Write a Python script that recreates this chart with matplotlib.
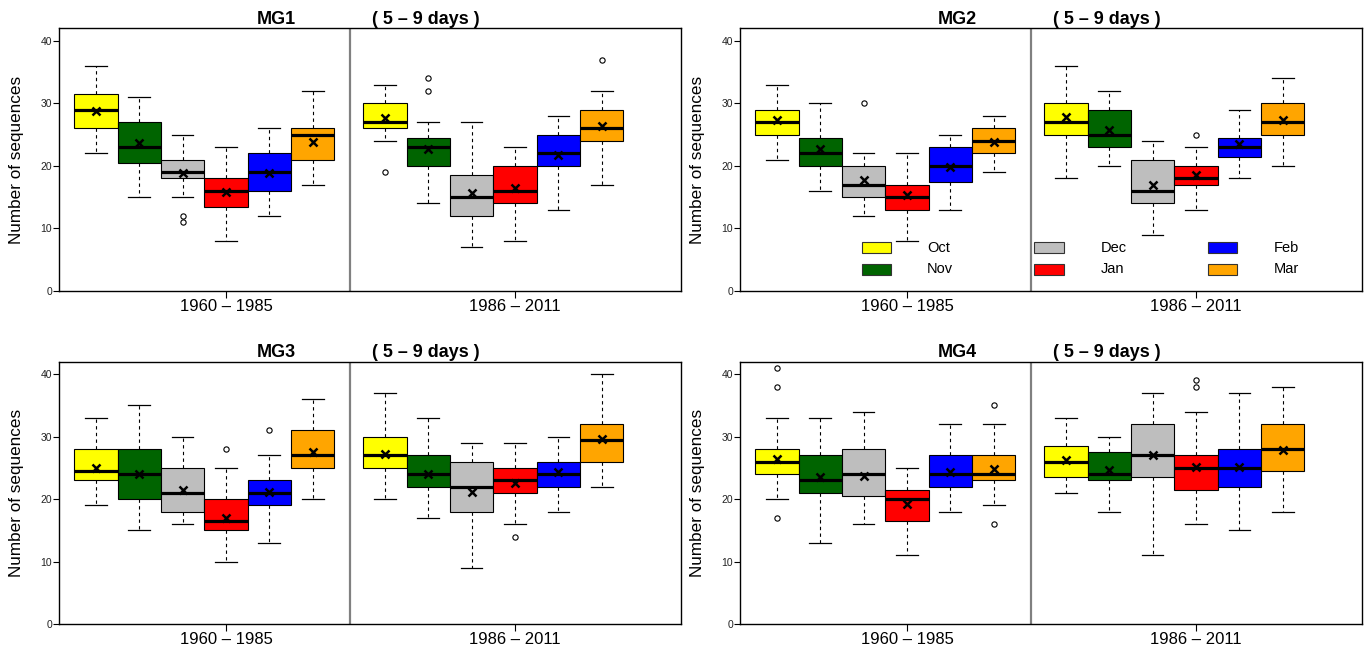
import matplotlib
matplotlib.use("Agg")
import matplotlib.pyplot as plt
from matplotlib.patches import Rectangle

plt.rcParams['font.family'] = ['Liberation Sans', 'DejaVu Sans']

months = ['Oct', 'Nov', 'Dec', 'Jan', 'Feb', 'Mar']
colors = ['#FFFF00', '#006400', '#BEBEBE', '#FF0000', '#0000FF', '#FFA500']
periods = ['1960 \u2013 1985', '1986 \u2013 2011']
panel_names = ['MG1', 'MG2', 'MG3', 'MG4']

# each list: 6 months of 1960-1985 followed by 6 months of 1986-2011
MG1_whislo = [22, 15, 15, 8, 12, 17,    24, 14, 7, 8, 13, 17]
MG1_q1 = [26, 20.5, 18, 13.5, 16, 21,   26, 20, 12, 14, 20, 24]
MG1_med = [29, 23, 19, 16, 19, 25,      27, 23, 15, 16, 22, 26]
MG1_q3 = [31.5, 27, 21, 18, 22, 26,     30, 24.5, 18.5, 20, 25, 29]
MG1_whishi = [36, 31, 25, 23, 26, 32,   33, 27, 27, 23, 28, 32]
MG1_mean = [28.8, 23.6, 18.8, 15.9, 18.8, 23.8,  27.6, 22.7, 15.7, 16.4, 21.8, 26.4]
MG1_fliers = [[], [], [12, 11], [], [], [],  [19], [34, 32], [], [], [], [37]]

MG2_whislo = [21, 16, 12, 8, 13, 19,    18, 20, 9, 13, 18, 20]
MG2_q1 = [25, 20, 15, 13, 17.5, 22,     25, 23, 14, 17, 21.5, 25]
MG2_med = [27, 22, 17, 15, 20, 24,      27, 25, 16, 18, 23, 27]
MG2_q3 = [29, 24.5, 20, 17, 23, 26,     30, 29, 21, 20, 24.5, 30]
MG2_whishi = [33, 30, 22, 22, 25, 28,   36, 32, 24, 23, 29, 34]
MG2_mean = [27.3, 22.7, 17.8, 15.4, 19.8, 23.9,  27.8, 25.8, 17.0, 18.5, 23.5, 27.4]
MG2_fliers = [[], [], [30], [], [], [],  [], [], [], [25], [], []]

MG3_whislo = [19, 15, 16, 10, 13, 20,   20, 17, 9, 16, 18, 22]
MG3_q1 = [23, 20, 18, 15, 19, 25,       25, 22, 18, 21, 22, 26]
MG3_med = [24.5, 24, 21, 16.5, 21, 27,  27, 24, 22, 23, 24, 29.5]
MG3_q3 = [28, 28, 25, 20, 23, 31,       30, 27, 26, 25, 26, 32]
MG3_whishi = [33, 35, 30, 25, 27, 36,   37, 33, 29, 29, 30, 40]
MG3_mean = [25.0, 24.0, 21.5, 17.0, 21.2, 27.6,  27.3, 24.0, 21.1, 22.6, 24.3, 29.6]
MG3_fliers = [[], [], [], [28], [31], [],  [], [], [], [14], [], []]

MG4_whislo = [20, 13, 16, 11, 18, 19,   21, 18, 11, 16, 15, 18]
MG4_q1 = [24, 21, 20.5, 16.5, 22, 23,   23.5, 23, 23.5, 21.5, 22, 24.5]
MG4_med = [26, 23, 24, 20, 24, 24,      26, 24, 27, 25, 25, 28]
MG4_q3 = [28, 27, 28, 21.5, 27, 27,     28.5, 27.5, 32, 27, 28, 32]
MG4_whishi = [33, 33, 34, 25, 32, 32,   33, 30, 37, 34, 37, 38]
MG4_mean = [26.4, 23.5, 23.7, 19.2, 24.4, 24.8,  26.3, 24.6, 27.0, 25.1, 25.1, 27.8]
MG4_fliers = [[41, 38, 17], [], [], [], [], [35, 16],  [], [], [], [39, 38], [], []]

panel_data = [
    (MG1_whislo, MG1_q1, MG1_med, MG1_q3, MG1_whishi, MG1_mean, MG1_fliers),
    (MG2_whislo, MG2_q1, MG2_med, MG2_q3, MG2_whishi, MG2_mean, MG2_fliers),
    (MG3_whislo, MG3_q1, MG3_med, MG3_q3, MG3_whishi, MG3_mean, MG3_fliers),
    (MG4_whislo, MG4_q1, MG4_med, MG4_q3, MG4_whishi, MG4_mean, MG4_fliers),
]

# box positions: two groups of six touching boxes
pos1 = [1, 2, 3, 4, 5, 6]
pos2 = [p + 6.665 for p in pos1]
positions = pos1 + pos2
divider_x = 6.85

fig = plt.figure(figsize=(13.69, 6.48), dpi=100)
W, H = 1369, 648
ax_w, ax_h = 622.3, 262.7
ax_lefts = [59, 740, 59, 740]
ax_bottoms = [291, 291, 624.3, 624.3]

for k, name in enumerate(panel_names):
    left = ax_lefts[k]
    bottom = ax_bottoms[k]
    ax = fig.add_axes([left / W, (H - bottom) / H, ax_w / W, ax_h / H])
    whislo, q1, med, q3, whishi, mean, fliers = panel_data[k]

    stats = []
    for i in range(12):
        stats.append(dict(whislo=whislo[i], q1=q1[i], med=med[i], q3=q3[i],
                          whishi=whishi[i], mean=mean[i], fliers=fliers[i]))

    bp = ax.bxp(stats, positions=positions, widths=1.0, capwidths=0.5,
                patch_artist=True, showmeans=True, manage_ticks=False,
                boxprops=dict(edgecolor='black', linewidth=0.8),
                medianprops=dict(color='black', linewidth=2.3),
                whiskerprops=dict(color='black', linestyle=(0, (3, 3)), linewidth=0.8),
                capprops=dict(color='black', linewidth=0.9),
                flierprops=dict(marker='o', markerfacecolor='none',
                                markeredgecolor='black', markersize=3.8,
                                markeredgewidth=0.8),
                meanprops=dict(marker='x', markeredgecolor='black',
                               markersize=5.5, markeredgewidth=1.8))
    for i, patch in enumerate(bp['boxes']):
        patch.set_facecolor(colors[i % 6])

    ax.axvline(divider_x, color='#808080', linewidth=1.6)

    ax.set_xlim(0.15, 14.5)
    ax.set_ylim(0, 42)
    ax.set_yticks([0, 10, 20, 30, 40])
    ax.set_xticks([pos1[3], pos2[3]])
    ax.set_xticklabels(periods, fontsize=12)
    ax.tick_params(axis='x', length=5, width=0.8, pad=0.5)
    ax.tick_params(axis='y', length=4, width=0.8, pad=1, labelsize=7.5, labelcolor='#222222')
    for sp in ax.spines.values():
        sp.set_linewidth(1.0)
        sp.set_color('black')

    ax.set_ylabel('Number of sequences', fontsize=12.3)
    ax.yaxis.set_label_coords(-0.056, 0.5)

    ax.text(0.349, 1.016, name, transform=ax.transAxes, ha='center', va='baseline',
            fontsize=13, fontweight='bold')
    ax.text(0.589, 1.016, '( 5 \u2013 9 days )', transform=ax.transAxes, ha='center',
            va='baseline', fontsize=13, fontweight='bold')

    if name == 'MG2':
        # legend: three columns of two months
        col_patch = [0.1956, 0.473, 0.7516]
        col_text = [0.3005, 0.580, 0.858]
        row_y = [0.1435, 0.0609]
        for m in range(6):
            c = m // 2
            r = m % 2
            ax.add_patch(Rectangle((col_patch[c], row_y[r]), 0.0471, 0.0419,
                                   transform=ax.transAxes, facecolor=colors[m],
                                   edgecolor='#333333', linewidth=0.8))
            ax.text(col_text[c], row_y[r] + 0.021, months[m], transform=ax.transAxes,
                    ha='left', va='center', fontsize=10.5)

fig.savefig('out.png', dpi=100)
